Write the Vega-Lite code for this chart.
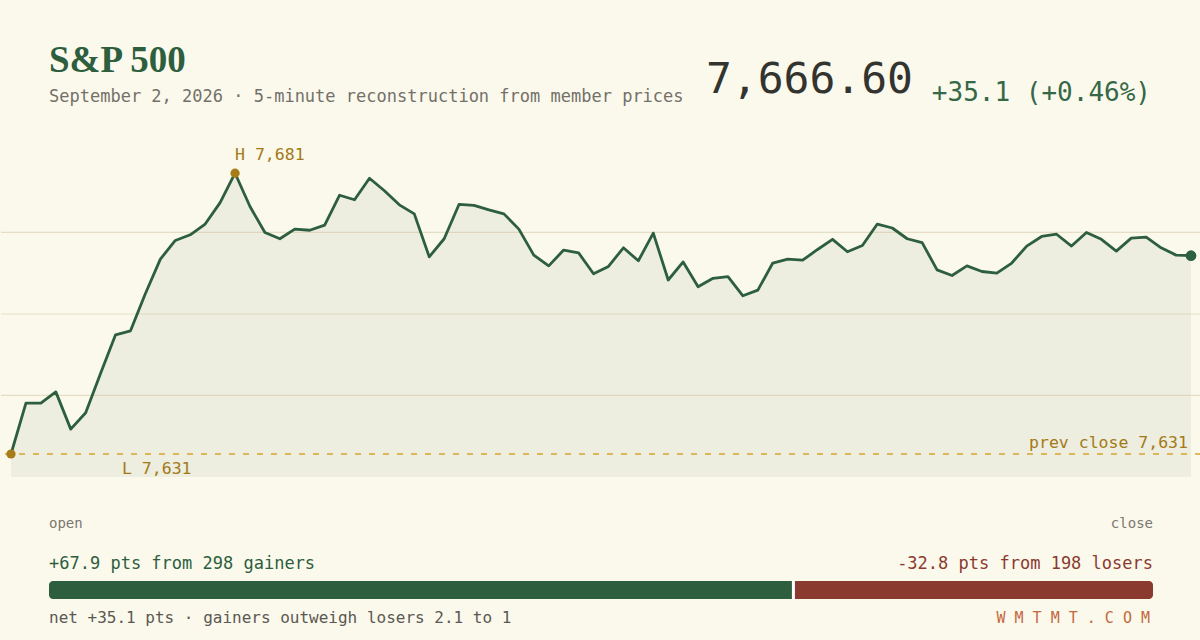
{
  "$schema": "https://vega.github.io/schema/vega-lite/v6.json",
  "description": "S&P 500 intraday 5-minute reconstruction with gainers/losers breadth bar.",
  "background": "#fbf9ec",
  "padding": {"left": 0, "top": 0, "right": 0, "bottom": 13},
  "config": {
    "view": {"stroke": null, "fill": "#fbf9ec"},
    "font": "DejaVu Sans Mono"
  },
  "datasets": {
    "session": [
      {"minute": 0, "price": 7631.5}, {"minute": 5, "price": 7640.5}, {"minute": 10, "price": 7640.5},
      {"minute": 15, "price": 7642.5}, {"minute": 20, "price": 7635.9}, {"minute": 25, "price": 7638.8},
      {"minute": 30, "price": 7645.8}, {"minute": 35, "price": 7652.6}, {"minute": 40, "price": 7653.3},
      {"minute": 45, "price": 7659.9}, {"minute": 50, "price": 7666.0}, {"minute": 55, "price": 7669.3},
      {"minute": 60, "price": 7670.3}, {"minute": 65, "price": 7672.2}, {"minute": 70, "price": 7676.0},
      {"minute": 75, "price": 7681.2}, {"minute": 80, "price": 7675.3}, {"minute": 85, "price": 7670.7},
      {"minute": 90, "price": 7669.6}, {"minute": 95, "price": 7671.3}, {"minute": 100, "price": 7671.1},
      {"minute": 105, "price": 7672.0}, {"minute": 110, "price": 7677.3}, {"minute": 115, "price": 7676.5},
      {"minute": 120, "price": 7680.3}, {"minute": 125, "price": 7678.1}, {"minute": 130, "price": 7675.6},
      {"minute": 135, "price": 7674.0}, {"minute": 140, "price": 7666.4}, {"minute": 145, "price": 7669.6},
      {"minute": 150, "price": 7675.7}, {"minute": 155, "price": 7675.5}, {"minute": 160, "price": 7674.7},
      {"minute": 165, "price": 7674.0}, {"minute": 170, "price": 7671.3}, {"minute": 175, "price": 7666.7},
      {"minute": 180, "price": 7664.8}, {"minute": 185, "price": 7667.6}, {"minute": 190, "price": 7667.1},
      {"minute": 195, "price": 7663.4}, {"minute": 200, "price": 7664.7}, {"minute": 205, "price": 7668.0},
      {"minute": 210, "price": 7665.7}, {"minute": 215, "price": 7670.6}, {"minute": 220, "price": 7662.3},
      {"minute": 225, "price": 7665.5}, {"minute": 230, "price": 7661.1}, {"minute": 235, "price": 7662.6},
      {"minute": 240, "price": 7662.9}, {"minute": 245, "price": 7659.5}, {"minute": 250, "price": 7660.5},
      {"minute": 255, "price": 7665.3}, {"minute": 260, "price": 7666.0}, {"minute": 265, "price": 7665.8},
      {"minute": 270, "price": 7667.7}, {"minute": 275, "price": 7669.5}, {"minute": 280, "price": 7667.3},
      {"minute": 285, "price": 7668.4}, {"minute": 290, "price": 7672.2}, {"minute": 295, "price": 7671.5},
      {"minute": 300, "price": 7669.6}, {"minute": 305, "price": 7668.9}, {"minute": 310, "price": 7664.1},
      {"minute": 315, "price": 7663.1}, {"minute": 320, "price": 7664.8}, {"minute": 325, "price": 7663.8},
      {"minute": 330, "price": 7663.5}, {"minute": 335, "price": 7665.3}, {"minute": 340, "price": 7668.3},
      {"minute": 345, "price": 7670.0}, {"minute": 350, "price": 7670.4}, {"minute": 355, "price": 7668.3},
      {"minute": 360, "price": 7670.7}, {"minute": 365, "price": 7669.5}, {"minute": 370, "price": 7667.4},
      {"minute": 375, "price": 7669.7}, {"minute": 380, "price": 7669.9}, {"minute": 385, "price": 7668.0},
      {"minute": 390, "price": 7666.7}, {"minute": 395, "price": 7666.6}
    ],
    "extremes": [
      {"kind": "high", "minute": 75, "price": 7681.2, "label": "H 7,681"},
      {"kind": "low", "minute": 0, "price": 7631.5, "label": "L 7,631"}
    ],
    "reference": [{"label": "prev close 7,631", "price": 7631.5}],
    "grid": [{"price": 7641.86}, {"price": 7656.28}, {"price": 7670.71}],
    "breadth": [
      {"side": "gainers", "pts": 67.9, "members": 298, "label": "+67.9 pts from 298 gainers"},
      {"side": "losers", "pts": 32.8, "members": 198, "label": "-32.8 pts from 198 losers"}
    ],
    "header": [
      {"role": "name", "text": "S&P 500"},
      {"role": "note", "text": "September 2, 2026 · 5-minute reconstruction from member prices"},
      {"role": "last", "text": "7,666.60"},
      {"role": "change", "text": "+35.1 (+0.46%)"}
    ],
    "captions": [
      {"role": "open", "text": "open"},
      {"role": "close", "text": "close"},
      {"role": "net", "text": "net +35.1 pts · gainers outweigh losers 2.1 to 1"},
      {"role": "credit", "text": "W M T M T . C O M"}
    ]
  },
  "spacing": 0,
  "bounds": "flush",
  "vconcat": [
    {
      "width": 1200,
      "height": 151,
      "data": {"name": "header"},
      "encoding": {"text": {"field": "text", "type": "nominal"}},
      "layer": [
        {
          "transform": [{"filter": "datum.role === 'name'"}],
          "mark": {"type": "text", "align": "left", "baseline": "alphabetic", "font": "Liberation Serif", "fontWeight": "bold", "fontSize": 37, "color": "#2d5e3e", "dy": -3.8},
          "encoding": {"x": {"datum": 0, "type": "quantitative", "scale": {"domain": [0, 1], "padding": 48, "nice": false}, "axis": null}}
        },
        {
          "transform": [{"filter": "datum.role === 'note'"}],
          "mark": {"type": "text", "align": "left", "baseline": "alphabetic", "fontSize": 17, "color": "#73706a", "dy": 26.2},
          "encoding": {"x": {"datum": 0, "type": "quantitative", "scale": {"domain": [0, 1], "padding": 48, "nice": false}, "axis": null}}
        },
        {
          "transform": [{"filter": "datum.role === 'last'"}],
          "mark": {"type": "text", "align": "right", "baseline": "alphabetic", "fontSize": 43, "color": "#33332f", "dx": -240, "dy": 17.5},
          "encoding": {"x": {"datum": 1, "type": "quantitative", "scale": {"domain": [0, 1], "padding": 48, "nice": false}, "axis": null}}
        },
        {
          "transform": [{"filter": "datum.role === 'change'"}],
          "mark": {"type": "text", "align": "right", "baseline": "alphabetic", "fontSize": 26, "color": "#356846", "dx": -2, "dy": 25.2},
          "encoding": {"x": {"datum": 1, "type": "quantitative", "scale": {"domain": [0, 1], "padding": 48, "nice": false}, "axis": null}}
        }
      ]
    },
    {
      "spacing": 104,
      "bounds": "flush",
      "vconcat": [
        {
          "width": 1200,
          "height": 326,
          "layer": [
            {
              "data": {"name": "session"},
              "mark": {"type": "area", "color": "#edede0", "opacity": 1},
              "encoding": {
                "x": {"field": "minute", "type": "quantitative", "scale": {"domain": [0, 395], "padding": 10, "nice": false, "zero": false}, "axis": null},
                "y": {"field": "price", "type": "quantitative", "scale": {"domain": [7627.43, 7685.13], "nice": false, "zero": false}, "axis": null},
                "y2": {"datum": 7627.43}
              }
            },
            {
              "data": {"name": "grid"},
              "mark": {"type": "rule", "color": "#c4b383", "opacity": 0.38, "strokeWidth": 1.2},
              "encoding": {
                "y": {"field": "price", "type": "quantitative", "scale": {"domain": [7627.43, 7685.13], "nice": false, "zero": false}, "axis": null}
              }
            },
            {
              "data": {"name": "reference"},
              "mark": {"type": "rule", "color": "#d4a52b", "strokeWidth": 1.5, "strokeDash": [6, 8]},
              "encoding": {
                "y": {"field": "price", "type": "quantitative", "scale": {"domain": [7627.43, 7685.13], "nice": false, "zero": false}, "axis": null}
              }
            },
            {
              "data": {"name": "session"},
              "mark": {"type": "line", "color": "#2d5e3e", "strokeWidth": 2.8, "strokeJoin": "round"},
              "encoding": {
                "x": {"field": "minute", "type": "quantitative", "scale": {"domain": [0, 395], "padding": 10, "nice": false, "zero": false}, "axis": null},
                "y": {"field": "price", "type": "quantitative", "scale": {"domain": [7627.43, 7685.13], "nice": false, "zero": false}, "axis": null}
              }
            },
            {
              "data": {"name": "extremes"},
              "mark": {"type": "circle", "size": 85, "color": "#a67c18", "opacity": 1},
              "encoding": {
                "x": {"field": "minute", "type": "quantitative", "scale": {"domain": [0, 395], "padding": 10, "nice": false, "zero": false}, "axis": null},
                "y": {"field": "price", "type": "quantitative", "scale": {"domain": [7627.43, 7685.13], "nice": false, "zero": false}, "axis": null}
              }
            },
            {
              "data": {"name": "extremes"},
              "transform": [{"filter": "datum.kind === 'high'"}],
              "mark": {"type": "text", "align": "left", "baseline": "alphabetic", "fontSize": 16.5, "color": "#a37a16", "dy": -13},
              "encoding": {
                "x": {"field": "minute", "type": "quantitative", "scale": {"domain": [0, 395], "padding": 10, "nice": false, "zero": false}, "axis": null},
                "y": {"field": "price", "type": "quantitative", "scale": {"domain": [7627.43, 7685.13], "nice": false, "zero": false}, "axis": null},
                "text": {"field": "label", "type": "nominal"}
              }
            },
            {
              "data": {"name": "extremes"},
              "transform": [{"filter": "datum.kind === 'low'"}],
              "mark": {"type": "text", "align": "left", "baseline": "alphabetic", "fontSize": 16.5, "color": "#a37a16", "dx": 111, "dy": 20},
              "encoding": {
                "x": {"field": "minute", "type": "quantitative", "scale": {"domain": [0, 395], "padding": 10, "nice": false, "zero": false}, "axis": null},
                "y": {"field": "price", "type": "quantitative", "scale": {"domain": [7627.43, 7685.13], "nice": false, "zero": false}, "axis": null},
                "text": {"field": "label", "type": "nominal"}
              }
            },
            {
              "data": {"name": "reference"},
              "mark": {"type": "text", "align": "right", "baseline": "alphabetic", "fontSize": 16.5, "color": "#a37a16", "dx": -3, "dy": -6},
              "encoding": {
                "x": {"datum": 395, "type": "quantitative", "scale": {"domain": [0, 395], "padding": 10, "nice": false, "zero": false}, "axis": null},
                "y": {"field": "price", "type": "quantitative", "scale": {"domain": [7627.43, 7685.13], "nice": false, "zero": false}, "axis": null},
                "text": {"field": "label", "type": "nominal"}
              }
            },
            {
              "data": {"name": "session"},
              "transform": [{"filter": "datum.minute === 395"}],
              "mark": {"type": "circle", "size": 115, "color": "#2d5e3e", "opacity": 1},
              "encoding": {
                "x": {"field": "minute", "type": "quantitative", "scale": {"domain": [0, 395], "padding": 10, "nice": false, "zero": false}, "axis": null},
                "y": {"field": "price", "type": "quantitative", "scale": {"domain": [7627.43, 7685.13], "nice": false, "zero": false}, "axis": null}
              }
            }
          ]
        },
        {
          "width": 1200,
          "height": 18,
          "layer": [
            {
              "data": {"name": "breadth"},
              "transform": [
                {"stack": "pts", "groupby": [], "sort": [{"field": "side", "order": "ascending"}], "as": ["x0", "x1"]},
                {"filter": "datum.side === 'gainers'"}
              ],
              "mark": {"type": "rect", "color": "#2d5e3e", "cornerRadiusTopLeft": 4, "cornerRadiusBottomLeft": 4},
              "encoding": {
                "x": {"field": "x0", "type": "quantitative", "scale": {"domain": [0, 100.7], "padding": 48, "nice": false, "zero": false}, "axis": null},
                "x2": {"field": "x1"}
              }
            },
            {
              "data": {"name": "breadth"},
              "transform": [
                {"stack": "pts", "groupby": [], "sort": [{"field": "side", "order": "ascending"}], "as": ["x0", "x1"]},
                {"filter": "datum.side === 'losers'"}
              ],
              "mark": {"type": "rect", "color": "#8b3a2f", "cornerRadiusTopRight": 4, "cornerRadiusBottomRight": 4},
              "encoding": {
                "x": {"field": "x0", "type": "quantitative", "scale": {"domain": [0, 100.7], "padding": 48, "nice": false, "zero": false}, "axis": null},
                "x2": {"field": "x1"}
              }
            },
            {
              "data": {"name": "breadth"},
              "transform": [
                {"stack": "pts", "groupby": [], "sort": [{"field": "side", "order": "ascending"}], "as": ["x0", "x1"]},
                {"filter": "datum.side === 'gainers'"}
              ],
              "mark": {"type": "rule", "color": "#ffffff", "strokeWidth": 3},
              "encoding": {
                "x": {"field": "x1", "type": "quantitative", "scale": {"domain": [0, 100.7], "padding": 48, "nice": false, "zero": false}, "axis": null}
              }
            },
            {
              "data": {"name": "breadth"},
              "transform": [{"filter": "datum.side === 'gainers'"}],
              "mark": {"type": "text", "align": "left", "baseline": "alphabetic", "fontSize": 17, "color": "#2d5e3e", "dy": -21},
              "encoding": {
                "x": {"datum": 0, "type": "quantitative", "scale": {"domain": [0, 100.7], "padding": 48, "nice": false, "zero": false}, "axis": null},
                "text": {"field": "label", "type": "nominal"}
              }
            },
            {
              "data": {"name": "breadth"},
              "transform": [{"filter": "datum.side === 'losers'"}],
              "mark": {"type": "text", "align": "right", "baseline": "alphabetic", "fontSize": 17, "color": "#8b3a2f", "dy": -21},
              "encoding": {
                "x": {"datum": 100.7, "type": "quantitative", "scale": {"domain": [0, 100.7], "padding": 48, "nice": false, "zero": false}, "axis": null},
                "text": {"field": "label", "type": "nominal"}
              }
            },
            {
              "data": {"name": "captions"},
              "transform": [{"filter": "datum.role === 'open'"}],
              "mark": {"type": "text", "align": "left", "baseline": "alphabetic", "fontSize": 14, "color": "#7b7770", "dy": -61.7},
              "encoding": {
                "x": {"datum": 0, "type": "quantitative", "scale": {"domain": [0, 100.7], "padding": 48, "nice": false, "zero": false}, "axis": null},
                "text": {"field": "text", "type": "nominal"}
              }
            },
            {
              "data": {"name": "captions"},
              "transform": [{"filter": "datum.role === 'close'"}],
              "mark": {"type": "text", "align": "right", "baseline": "alphabetic", "fontSize": 14, "color": "#7b7770", "dy": -61.7},
              "encoding": {
                "x": {"datum": 100.7, "type": "quantitative", "scale": {"domain": [0, 100.7], "padding": 48, "nice": false, "zero": false}, "axis": null},
                "text": {"field": "text", "type": "nominal"}
              }
            },
            {
              "data": {"name": "captions"},
              "transform": [{"filter": "datum.role === 'net'"}],
              "mark": {"type": "text", "align": "left", "baseline": "alphabetic", "fontSize": 16, "color": "#5a5853", "dy": 33.3},
              "encoding": {
                "x": {"datum": 0, "type": "quantitative", "scale": {"domain": [0, 100.7], "padding": 48, "nice": false, "zero": false}, "axis": null},
                "text": {"field": "text", "type": "nominal"}
              }
            },
            {
              "data": {"name": "captions"},
              "transform": [{"filter": "datum.role === 'credit'"}],
              "mark": {"type": "text", "align": "right", "baseline": "alphabetic", "fontSize": 15, "color": "#c4693c", "dx": -3, "dy": 33.3},
              "encoding": {
                "x": {"datum": 100.7, "type": "quantitative", "scale": {"domain": [0, 100.7], "padding": 48, "nice": false, "zero": false}, "axis": null},
                "text": {"field": "text", "type": "nominal"}
              }
            }
          ]
        }
      ]
    }
  ]
}
